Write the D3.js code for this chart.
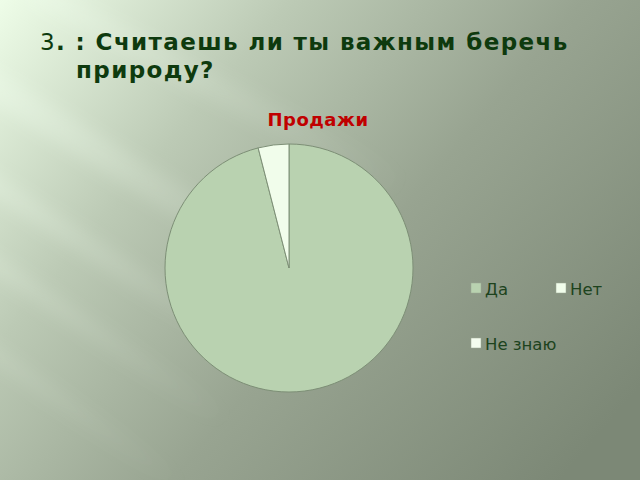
<!DOCTYPE html>
<html>
<head>
<meta charset="utf-8">
<script src="https://cdn.jsdelivr.net/npm/d3@7"></script>
<style>
  html, body { margin: 0; padding: 0; overflow: hidden; }
  text { font-family: "DejaVu Sans", sans-serif; }
</style>
</head>
<body>
<svg id="chart"></svg>
<script>
const categories = ['Да', 'Нет', 'Не знаю'];
const values = [96, 4, 0];
const colors = ['#b9d2b0', '#f1fdeb', '#f4fdef'];

const width = 640, height = 480;
const svg = d3.select('#chart').attr('width', width).attr('height', height);

// background
const defs = svg.append('defs');
const bg = defs.append('linearGradient').attr('id', 'bg')
  .attr('gradientUnits', 'userSpaceOnUse')
  .attr('x1', 0).attr('y1', 0).attr('x2', 560).attr('y2', 480);
bg.append('stop').attr('offset', '0%').attr('stop-color', '#eefde8');
bg.append('stop').attr('offset', '30%').attr('stop-color', '#bccab5');
bg.append('stop').attr('offset', '60%').attr('stop-color', '#98a491');
bg.append('stop').attr('offset', '100%').attr('stop-color', '#7c8876');
svg.append('rect').attr('width', width).attr('height', height).attr('fill', 'url(#bg)');

const sg = defs.append('linearGradient').attr('id', 'streak');
sg.append('stop').attr('offset', '0%').attr('stop-color', '#f2fff0').attr('stop-opacity', 0.6);
sg.append('stop').attr('offset', '100%').attr('stop-color', '#f2fff0').attr('stop-opacity', 0);
const blur = defs.append('filter').attr('id', 'blur').attr('x', '-50%').attr('y', '-50%')
  .attr('width', '200%').attr('height', '200%');
blur.append('feGaussianBlur').attr('stdDeviation', 8);
const streaks = [
  { x: -20, y: 60, w: 420, h: 30, a: 32, o: 0.55 },
  { x: -40, y: 150, w: 380, h: 22, a: 33, o: 0.45 },
  { x: -40, y: 230, w: 330, h: 18, a: 34, o: 0.35 },
  { x: -40, y: 320, w: 280, h: 16, a: 35, o: 0.25 },
  { x: 40, y: -20, w: 420, h: 26, a: 28, o: 0.4 }
];
svg.append('g').attr('filter', 'url(#blur)')
  .selectAll('rect').data(streaks).enter().append('rect')
  .attr('x', d => d.x).attr('y', d => d.y).attr('width', d => d.w).attr('height', d => d.h)
  .attr('transform', d => `rotate(${d.a},${d.x},${d.y})`)
  .attr('fill', 'url(#streak)').attr('opacity', d => d.o);

// slide title
const title = svg.append('text').attr('x', 40).attr('y', 50)
  .attr('font-size', 23).attr('letter-spacing', 1.4).attr('fill', '#0e3a0e');
title.append('tspan').text('3');
title.append('tspan').attr('font-weight', 'bold').text('. : Считаешь ли ты важным беречь');
svg.append('text').attr('x', 76).attr('y', 78).attr('font-size', 23).attr('letter-spacing', 1.4)
  .attr('font-weight', 'bold').attr('fill', '#0e3a0e').text('природу?');

svg.append('text').attr('x', 318).attr('y', 126).attr('text-anchor', 'middle')
  .attr('font-size', 18).attr('letter-spacing', 0.5)
  .attr('font-weight', 'bold').attr('fill', '#c00000').text('Продажи');

// pie
const cx = 289, cy = 268, r = 124;
const pie = d3.pie().sort(null).value(d => d.v);
const arc = d3.arc().innerRadius(0).outerRadius(r);
const data = categories.map((c, i) => ({ c, v: values[i], col: colors[i] }));
svg.append('g').attr('transform', `translate(${cx},${cy})`)
  .selectAll('path').data(pie(data).filter(d => d.data.v > 0)).enter().append('path')
  .attr('d', arc).attr('fill', d => d.data.col)
  .attr('stroke', '#7d8f76').attr('stroke-width', 1);

// legend
const legendPos = [[471, 283], [556, 283], [471, 338]];
const lg = svg.append('g').selectAll('g').data(data).enter().append('g')
  .attr('transform', (d, i) => `translate(${legendPos[i][0]},${legendPos[i][1]})`);
lg.append('rect').attr('width', 10).attr('height', 10).attr('fill', d => d.col)
  .attr('stroke', '#9aa893').attr('stroke-width', 0.5);
lg.append('text').attr('x', 14).attr('y', 12).attr('font-size', 16.5)
  .attr('fill', '#1d431d').text(d => d.c);
</script>
</body>
</html>
